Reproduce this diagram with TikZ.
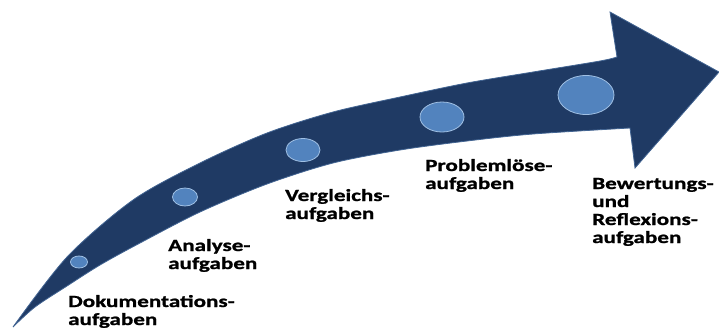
\documentclass[tikz,border=0pt]{standalone}
\usepackage{fontspec}
\newfontfamily\labelfont{Carlito}[FakeStretch=1.36, BoldFeatures={FakeBold=1.2}]
\usetikzlibrary{shapes.geometric}
\definecolor{arrowblue}{RGB}{31,58,100}
\definecolor{arrowedge}{RGB}{66,100,146}
\definecolor{dotblue}{RGB}{82,131,190}
\definecolor{dotrim}{RGB}{160,192,228}

\begin{document}
\begin{tikzpicture}[x=1pt, y=-1pt,
  dot/.style={ellipse, fill=dotblue, draw=dotrim, line width=0.8pt, inner sep=0pt},
  lbl/.style={anchor=base west, align=left, inner sep=0pt,
    font=\labelfont\bfseries\fontsize{17}{18}\selectfont}]
  \useasboundingbox (0,0) rectangle (719,330);
  % curved arrow
  \coordinate (tail) at (13,327);
  \coordinate (headtop) at (610,12);
  \coordinate (tip) at (719,72);
  \coordinate (headbot) at (635,168);
  \filldraw[fill=arrowblue, draw=arrowedge, line width=0.8pt] (tail)
    -- plot[smooth] coordinates {(13,327) (67,257) (133,200) (200,163) (267,133) (333,112)
       (400,97) (467,83) (533,72) (600,61) (617,57)}
    -- (headtop) -- (tip) -- (headbot)
    -- plot[smooth] coordinates {(630,128) (533,134) (467,141) (400,150) (333,163) (267,184)
       (200,212) (140,243) (100,265) (67,286) (35,307) (13,327)}
    -- cycle;
  % steps on the arrow
  \node[dot, minimum width=17, minimum height=12] (d1) at (79,262) {};
  \node[dot, minimum width=25, minimum height=18] (d2) at (185,197) {};
  \node[dot, minimum width=34, minimum height=23] (d3) at (303,150) {};
  \node[dot, minimum width=44, minimum height=30] (d4) at (442,117) {};
  \node[dot, minimum width=56, minimum height=39] (d5) at (586,95) {};
  % labels (anchored at the last baseline)
  \node[lbl] (doku) at (68,325) {Dokumentations-\\aufgaben};
  \node[lbl] (analyse) at (168,269) {Analyse-\\aufgaben};
  \node[lbl] (vergleich) at (285,219) {Vergleichs-\\aufgaben};
  \node[lbl] (problem) at (425,189) {Problemlöse-\\aufgaben};
  \node[lbl] (bewertung) at (592,243) {Bewertungs-\\und\\Reflexions-\\aufgaben};
\end{tikzpicture}
\end{document}
